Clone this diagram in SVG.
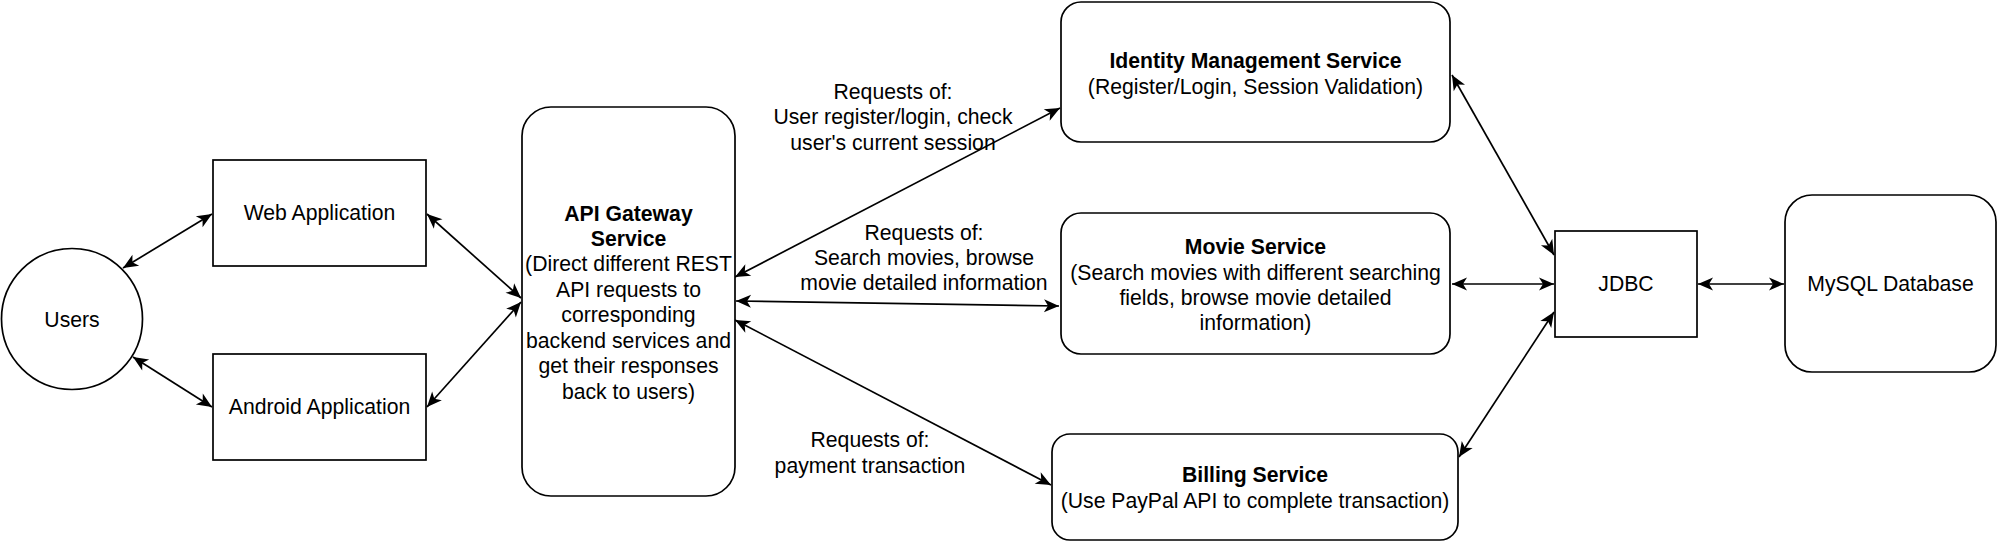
<svg xmlns="http://www.w3.org/2000/svg" width="1998" height="544" viewBox="0 0 1998 544">
  <style>
    .box { fill: #ffffff; stroke: #000000; stroke-width: 1.7; }
    .t { font-family: "Liberation Sans", Arial, sans-serif; font-size: 21.2px; fill: #000000; text-anchor: middle; }
    .b { font-weight: bold; }
    .edge { fill: none; stroke: #000000; stroke-width: 1.7; marker-start: url(#arr); marker-end: url(#arr); }
  </style>
  <defs>
    <marker id="arr" viewBox="-16 -8 17 16" refX="0" refY="0" markerWidth="17" markerHeight="16" markerUnits="userSpaceOnUse" orient="auto-start-reverse">
      <path d="M0,0 L-15,-6.5 L-11,0 L-15,6.5 Z" fill="#000000"/>
    </marker>
  </defs>
  <rect width="1998" height="544" fill="#ffffff"/>

  <g id="connectors">
    <line class="edge" x1="123" y1="268" x2="212" y2="214"/>
    <line class="edge" x1="133" y1="357" x2="212" y2="407"/>
    <line class="edge" x1="427" y1="214" x2="521" y2="298"/>
    <line class="edge" x1="427" y1="407" x2="521" y2="302"/>
    <line class="edge" x1="735" y1="277" x2="1060" y2="108"/>
    <line class="edge" x1="736" y1="301" x2="1059" y2="306"/>
    <line class="edge" x1="735" y1="320" x2="1051" y2="485"/>
    <line class="edge" x1="1452" y1="75" x2="1554" y2="255"/>
    <line class="edge" x1="1452" y1="284" x2="1554" y2="284"/>
    <line class="edge" x1="1459" y1="457" x2="1554" y2="312"/>
    <line class="edge" x1="1698" y1="284" x2="1784" y2="284"/>
  </g>

  <g id="edge-labels">
    <text class="t" x="893" y="99">Requests of:</text>
    <text class="t" x="893" y="124">User register/login, check</text>
    <text class="t" x="893" y="150">user's current session</text>
    <text class="t" x="924" y="240">Requests of:</text>
    <text class="t" x="924" y="265">Search movies, browse</text>
    <text class="t" x="924" y="290">movie detailed information</text>
    <text class="t" x="870" y="447">Requests of:</text>
    <text class="t" x="870" y="473">payment transaction</text>
  </g>

  <g id="users">
    <circle class="box" cx="72" cy="319" r="70.5"/>
    <text class="t" x="72" y="327">Users</text>
  </g>

  <g id="web-application">
    <rect class="box" x="213" y="160" width="213" height="106"/>
    <text class="t" x="319.5" y="220">Web Application</text>
  </g>

  <g id="android-application">
    <rect class="box" x="213" y="354" width="213" height="106"/>
    <text class="t" x="319.5" y="414">Android Application</text>
  </g>

  <g id="api-gateway">
    <rect class="box" x="522" y="107" width="213" height="389" rx="29" ry="29"/>
    <text class="t b" x="628.5" y="221">API Gateway</text>
    <text class="t b" x="628.5" y="246">Service</text>
    <text class="t" x="628.5" y="271">(Direct different REST</text>
    <text class="t" x="628.5" y="297">API requests to</text>
    <text class="t" x="628.5" y="322">corresponding</text>
    <text class="t" x="628.5" y="348">backend services and</text>
    <text class="t" x="628.5" y="373">get their responses</text>
    <text class="t" x="628.5" y="399">back to users)</text>
  </g>

  <g id="identity-management-service">
    <rect class="box" x="1061" y="2" width="389" height="140" rx="20" ry="20"/>
    <text class="t b" x="1255.5" y="68">Identity Management Service</text>
    <text class="t" x="1255.5" y="94">(Register/Login, Session Validation)</text>
  </g>

  <g id="movie-service">
    <rect class="box" x="1061" y="213" width="389" height="141" rx="20" ry="20"/>
    <text class="t b" x="1255.5" y="254">Movie Service</text>
    <text class="t" x="1255.5" y="280">(Search movies with different searching</text>
    <text class="t" x="1255.5" y="305">fields, browse movie detailed</text>
    <text class="t" x="1255.5" y="330">information)</text>
  </g>

  <g id="billing-service">
    <rect class="box" x="1052" y="434" width="406" height="106" rx="18" ry="18"/>
    <text class="t b" x="1255" y="482">Billing Service</text>
    <text class="t" x="1255" y="508">(Use PayPal API to complete transaction)</text>
  </g>

  <g id="jdbc">
    <rect class="box" x="1555" y="231" width="142" height="106"/>
    <text class="t" x="1626" y="291">JDBC</text>
  </g>

  <g id="mysql-database">
    <rect class="box" x="1785" y="195" width="211" height="177" rx="27" ry="27"/>
    <text class="t" x="1890.5" y="291">MySQL Database</text>
  </g>
</svg>
